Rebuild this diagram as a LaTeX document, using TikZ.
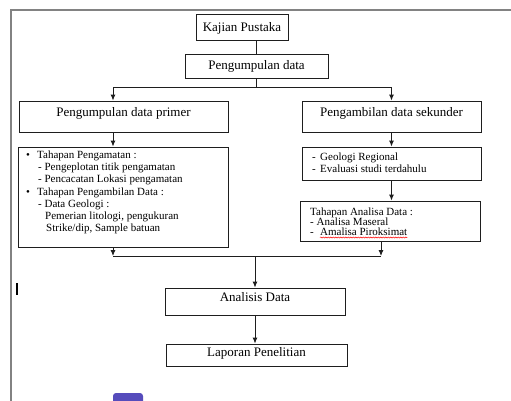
\documentclass[tikz,border=0pt]{standalone}
\usepackage{fontspec}
\setmainfont{Liberation Serif}
\usetikzlibrary{arrows.meta,decorations.pathmorphing,calc}
\definecolor{framegray}{RGB}{130,130,130}
\definecolor{boxline}{RGB}{30,30,30}
\definecolor{btn}{RGB}{86,76,188}
\begin{document}
\begin{tikzpicture}[x=1pt,y=-1pt,
  box/.style={draw=boxline, line width=0.9pt, inner sep=0pt, font=\fontsize{13}{15}\selectfont},
  txt/.style={inner sep=0pt, anchor=base west, font=\fontsize{11}{12}\selectfont},
  arr/.style={draw=boxline, -{Latex[length=6pt,width=5pt]}, line width=0.9pt},
  ln/.style={draw=boxline, line width=0.9pt}]
\useasboundingbox (0,0) rectangle (511,400);
\begin{scope}
\clip (0,0) rectangle (511,400);
\fill[white] (0,0) rectangle (511,400);
\draw[framegray, line width=1.4pt] (11,405) -- (11,10) -- (515,10);
\fill[btn, rounded corners=3pt] (113,393) rectangle (143,408);
\end{scope}
\draw[black, line width=1.1pt] (17,283) -- (17,295);

% boxes
\node[box, minimum width=92, text height=17, text depth=9] (kp) at (242,27) {Kajian Pustaka};
\node[box, minimum width=143, text height=15.5, text depth=8.5] (pd) at (256.5,66) {Pengumpulan data};
\node[box, minimum width=209, text height=15, text depth=16] (pp) at (123.5,116.5) {Pengumpulan data primer};
\node[box, minimum width=179, text height=15, text depth=16] (ps) at (391.5,116.5) {Pengambilan data sekunder};
\node[box, minimum width=210, minimum height=100] (lst) at (123,197) {};
\node[box, minimum width=179, minimum height=33] (r1) at (391.5,163.5) {};
\node[box, minimum width=180, minimum height=40] (r2) at (390,221) {};
\node[box, minimum width=180, text height=13, text depth=14] (ad) at (255,301.5) {Analisis Data};
\node[box, minimum width=181, text height=12, text depth=10] (lp) at (256.5,355) {Laporan Penelitian};

% texts in the list boxes
\node[txt] (l1) at (26,158.5) {\makebox[11pt][l]{\textbullet}Tahapan Pengamatan :};
\node[txt] (l2) at (38,170.7) {- Pengeplotan titik pengamatan};
\node[txt] (l3) at (38,182.9) {- Pencacatan Lokasi pengamatan};
\node[txt] (l4) at (26,195.1) {\makebox[11pt][l]{\textbullet}Tahapan Pengambilan Data :};
\node[txt] (l5) at (38,207.3) {- Data Geologi :};
\node[txt] (l6) at (45,219.5) {Pemerian litologi, pengukuran};
\node[txt] (l7) at (46,231.7) {Strike/dip, Sample batuan};

\node[txt] (r1a) at (312,160.5) {\makebox[8pt][l]{-}Geologi Regional};
\node[txt] (r1b) at (312,172.5) {\makebox[8pt][l]{-}Evaluasi studi terdahulu};

\node[txt] (r2a) at (310,215.5) {Tahapan Analisa Data :};
\node[txt] (r2b) at (310,225.5) {- Analisa Maseral};
\node[txt] (r2c) at (310,235.5) {\makebox[10pt][l]{-}Amalisa Piroksimat};
\draw[red, line width=0.5pt, decorate, decoration={snake, amplitude=0.6pt, segment length=2.5pt}]
  ([xshift=10pt,yshift=-2pt]r2c.base west) -- ([yshift=-2pt]r2c.base east);

% connectors
\coordinate (j1) at (256.5,87);
\coordinate (mL) at (113,256);
\coordinate (mR) at (381,256);
\coordinate (j2) at (255,256);
\draw[ln] (kp.south -| pd.north) -- (pd.north);
\draw[ln] (pd.south) -- (j1);
\draw[arr] (j1) -| ([xshift=-10.5pt]pp.north);
\draw[arr] (j1) -| (ps.north);
\draw[arr] ([xshift=-10.5pt]pp.south) -- ([xshift=-10pt]lst.north);
\draw[arr] (ps.south) -- (ps.south |- r1.north);
\draw[arr] (r1.south) -- (r1.south |- r2.north);
\draw[arr] ([xshift=-10pt]lst.south) -- (mL);
\draw[arr] ([xshift=-9pt]r2.south) -- (mR);
\draw[ln] (mL) -- (mR);
\draw[arr] (j2) -- (ad.north);
\draw[arr] (ad.south) -- (ad.south |- lp.north);
\end{tikzpicture}
\end{document}
